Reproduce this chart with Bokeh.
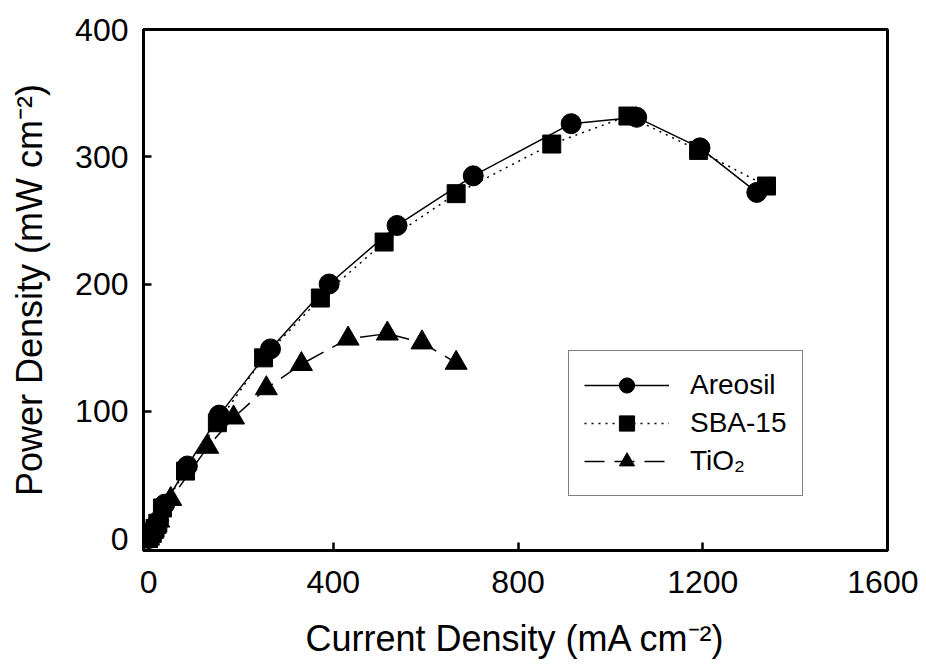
from bokeh.plotting import figure
from bokeh.models import Legend, LegendItem, FixedTicker, Range1d
from bokeh.embed import file_html
from bokeh.resources import INLINE

# Data
areosil_x = [0, 4, 9, 15, 22, 35, 84, 153, 264, 391, 538, 703, 915, 1057, 1194, 1317]
areosil_y = [0, 2, 5, 9, 14, 27, 57, 97, 149, 200, 246, 285, 326, 331, 307, 272]

sba_x = [0, 3, 8, 14, 20, 30, 80, 149, 249, 372, 510, 666, 873, 1038, 1191, 1338]
sba_y = [0, 2, 5, 8, 12, 24, 53, 91, 142, 189, 233, 271, 310, 332, 305, 277]

tio2_x = [0, 4, 8, 14, 22, 48, 128, 184, 255, 331, 432, 517, 592, 666]
tio2_y = [0, 2, 5, 9, 14, 31, 72, 95, 118, 137, 157, 161, 154, 138]

x_ticks = [0, 400, 800, 1200, 1600]
y_ticks = [0, 100, 200, 300, 400]

FONT = "Liberation Sans"

p = figure(width=918, height=661, output_backend="svg", toolbar_location=None,
           x_range=Range1d(-11, 1600), y_range=Range1d(-9.4, 400),
           min_border_left=143, min_border_top=29, min_border_right=31,
           min_border_bottom=111)

p.grid.visible = False
p.background_fill_color = "white"
p.border_fill_color = "white"
p.outline_line_color = "black"
p.outline_line_width = 3

for ax in (p.xaxis[0], p.yaxis[0]):
    ax.axis_line_width = 3
    ax.axis_line_color = "black"
    ax.major_tick_in = 8
    ax.major_tick_out = 0
    ax.major_tick_line_width = 2.5
    ax.minor_tick_line_color = None
    ax.major_label_text_font = FONT
    ax.major_label_text_font_size = "32px"
    ax.major_label_text_color = "black"
    ax.axis_label_text_font = FONT
    ax.axis_label_text_font_size = "36px"
    ax.axis_label_text_font_style = "normal"
    ax.axis_label_text_color = "black"

p.xaxis[0].ticker = FixedTicker(ticks=x_ticks)
p.yaxis[0].ticker = FixedTicker(ticks=y_ticks)
p.xaxis[0].major_label_standoff = 20
p.yaxis[0].major_label_standoff = 15
p.xaxis[0].axis_label_standoff = 22
p.yaxis[0].axis_label_standoff = 22
p.xaxis[0].axis_label = "Current Density (mA cm\u207b\u00b2)"
p.yaxis[0].axis_label = "Power Density (mW cm\u207b\u00b2)"

l1 = p.line(areosil_x, areosil_y, line_color="black", line_width=1.5)
s1 = p.scatter(areosil_x, areosil_y, marker="circle", size=20, fill_color="black", line_color="black")
l2 = p.line(sba_x, sba_y, line_color="black", line_width=1.5, line_dash="2 5")
s2 = p.scatter(sba_x, sba_y, marker="square", size=18, fill_color="black", line_color="black")
l3 = p.line(tio2_x, tio2_y, line_color="black", line_width=1.5, line_dash="20 10")
s3 = p.scatter(tio2_x, tio2_y, marker="triangle", size=22, fill_color="black", line_color="black")

legend = Legend(items=[
    LegendItem(label="Areosil", renderers=[l1, s1]),
    LegendItem(label="SBA-15", renderers=[l2, s2]),
    LegendItem(label="TiO\u2082", renderers=[l3, s3]),
], location=(425, 54))
legend.border_line_color = "black"
legend.border_line_width = 1.5
legend.background_fill_color = "white"
legend.background_fill_alpha = 1
legend.padding = 15
legend.spacing = 0
legend.glyph_width = 85
legend.glyph_height = 38
legend.label_height = 38
legend.label_standoff = 21
legend.label_text_font = FONT
legend.label_text_font_size = "28px"
legend.label_text_color = "black"
legend.margin = 0
p.add_layout(legend, "center")

open("out.html", "w").write(file_html(p, INLINE))
